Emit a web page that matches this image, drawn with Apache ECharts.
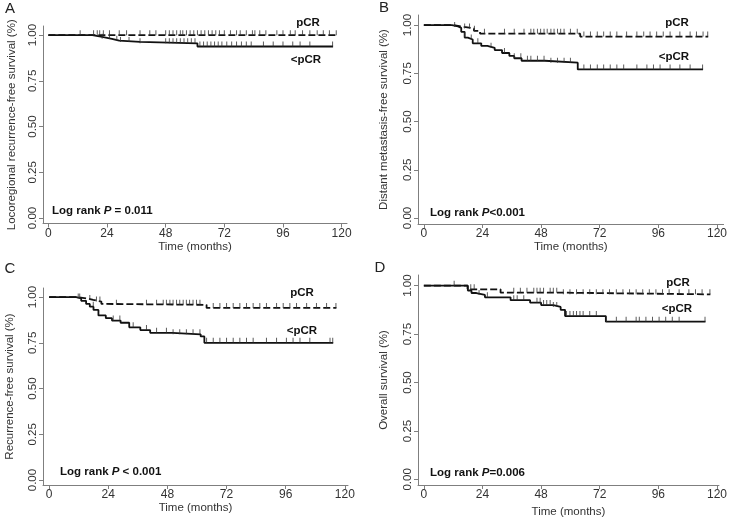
<!DOCTYPE html>
<html>
<head>
<meta charset="utf-8">
<script src="https://cdn.jsdelivr.net/npm/echarts@6/dist/echarts.min.js"></script>
<style>
html, body { margin: 0; padding: 0; background: #fff; }
#main { width: 730px; height: 523px; }
</style>
</head>
<body>
<div id="main"></div>
<script>
// axis ticks
const monthTicks = [0, 24, 48, 72, 96, 120]
const survTicks = [0, 0.25, 0.5, 0.75, 1]

// A: locoregional recurrence-free survival, [month, survival] steps (last point = end of follow-up)
const aPcr = [[0, 1], [118, 1]]
const aPcrCens = [13, 18.5, 20, 21, 22.5, 25, 29, 32, 37.5, 41.5, 44, 48, 49.5, 51, 52.5, 54, 55, 56.5, 58, 59.5, 61, 62.5, 64, 65.5, 67, 68.5, 70, 72, 74.5, 77, 78.5, 81, 83.5, 84.5, 86.5, 89, 93.5, 96, 99, 101, 104, 107, 110, 112.5, 115, 117.8]
const aLow = [[0, 1], [18, 0.99], [22, 0.98], [26, 0.97], [29, 0.963], [37.5, 0.955], [61, 0.938], [116.5, 0.938]]
const aLowCens = [22, 25, 28, 29.5, 33, 37.5, 48, 49.5, 51, 52.5, 54, 55.5, 57, 58.5, 60, 62, 63.5, 65, 66.5, 68, 69.5, 71, 73, 75, 77, 79, 81, 83, 88, 92, 96, 100, 103, 107, 116.3]

// B: distant metastasis-free survival
const bPcr = [[0, 1], [12, 0.99], [16.5, 0.982], [20.5, 0.97], [23, 0.955], [64, 0.94], [116.4, 0.94]]
const bPcrCens = [12.6, 16.7, 18.7, 20.7, 24.8, 33, 37, 41, 43.8, 45, 46.5, 47.8, 49.2, 50.5, 52, 53.3, 54.7, 56, 57.4, 60, 62.8, 65.5, 68.2, 71, 73.6, 76.3, 79, 83, 87.2, 90, 92.6, 95.3, 98, 100.8, 104.8, 109, 111.6, 114.3, 116.2]
const bLow = [[0, 1], [11.5, 0.993], [14, 0.985], [15.3, 0.965], [16.7, 0.935], [18, 0.925], [20, 0.905], [23.5, 0.892], [26, 0.882], [29, 0.87], [32, 0.855], [35, 0.84], [37, 0.828], [40, 0.815], [49.5, 0.805], [63, 0.77], [114.3, 0.77]]
const bLowCens = [16.7, 19.4, 22.1, 27.5, 33, 37, 39.7, 42.4, 43.8, 46.5, 49.2, 52, 54.7, 57.4, 60, 65.5, 68.2, 71, 73.6, 76.3, 79, 81.8, 87.2, 91.3, 94, 96.7, 100.8, 104.8, 109, 114.1]

// C: recurrence-free survival
const cPcr = [[0, 1], [11.8, 0.993], [15.2, 0.985], [17.9, 0.976], [21.2, 0.963], [23.3, 0.958], [63.9, 0.941], [116.6, 0.941]]
const cPcrCens = [11.8, 16.5, 19.2, 20.6, 27.3, 39.5, 43.6, 46.3, 47.6, 49, 50.3, 51.7, 53, 54.4, 55.7, 57, 58.4, 59.8, 61.2, 66.6, 69.3, 72, 74.7, 77.4, 80.1, 82.8, 85.5, 88.2, 92.3, 95, 97.7, 100.4, 104.5, 108.5, 112.6, 116.4]
const cLow = [[0, 1], [11, 0.993], [13, 0.98], [15, 0.963], [16.5, 0.948], [18, 0.93], [20, 0.9], [23, 0.885], [25.5, 0.872], [29, 0.86], [32.5, 0.835], [37, 0.82], [41, 0.805], [50, 0.797], [61.5, 0.785], [63, 0.75], [115.3, 0.75]]
const cLowCens = [12.4, 17.9, 26, 28.7, 34.1, 39.5, 43.6, 47.6, 50.3, 53, 55.7, 58.4, 61.2, 63.9, 66.6, 69.3, 72, 74.7, 77.4, 80.1, 82.8, 88.2, 92.3, 96.3, 99, 101.8, 105.8, 114, 115.1]

// D: overall survival
const dPcr = [[0, 1], [17.9, 0.981], [31.4, 0.964], [55.8, 0.955], [117.3, 0.955]]
const dPcrCens = [12.4, 19.2, 20.6, 36.8, 39.5, 42.2, 45, 46.3, 47.6, 49, 51.7, 53, 54.4, 57.1, 59.8, 62.5, 65.2, 67.9, 70.6, 73.3, 76, 78.8, 81.5, 84.2, 86.9, 89.6, 92.3, 95, 97.7, 100.4, 104.5, 108.5, 111.2, 113.9, 117.1]
const dLow = [[0, 1], [18, 0.975], [19.5, 0.962], [21.5, 0.952], [25, 0.94], [35.5, 0.925], [43.5, 0.912], [48, 0.9], [53, 0.89], [56, 0.875], [57.8, 0.843], [74.5, 0.814], [115.3, 0.814]]
const dLowCens = [22.6, 26, 36.8, 38.2, 40.9, 46.3, 47.6, 49, 50.3, 51.7, 53, 54.4, 58.4, 59.8, 61.2, 62.5, 63.9, 65.2, 67.9, 70.6, 74.7, 78.8, 82.8, 86.9, 88.2, 90.9, 93.6, 96.3, 99, 101.7, 104.5, 115.1]

const panelText = [
    { letter: 'A', yName: 'Locoregional recurrence-free survival (%)', p: ' = 0.011' },
    { letter: 'B', yName: 'Distant metastasis-free survival (%)', p: '<0.001' },
    { letter: 'C', yName: 'Recurrence-free survival (%)', p: ' < 0.001' },
    { letter: 'D', yName: 'Overall survival (%)', p: '=0.006' }
]

const FONT = '"Liberation Sans", Arial, sans-serif'

// survival value at time t (for placing censor ticks on the curve)
function survAt (steps, t) {
    let s = steps[0][1]
    for (const [time, val] of steps) {
        if (time <= t) s = val
    }
    return s
}

const panels = [
    { grid: { left: 43, top: 26, width: 304, height: 197.5 }, x: [-2.2, 122.2], y: [-0.03, 1.05], xGap: 17, yGap: 25,
      pcr: aPcr, pcrC: aPcrCens, low: aLow, lowC: aLowCens },
    { grid: { left: 418, top: 15, width: 307, height: 209 }, x: [-2.4, 122.7], y: [-0.031, 1.052], xGap: 13, yGap: 28,
      pcr: bPcr, pcrC: bPcrCens, low: bLow, lowC: bLowCens },
    { grid: { left: 43, top: 288, width: 305, height: 197 }, x: [-2.5, 121.3], y: [-0.027, 1.05], xGap: 17, yGap: 27,
      pcr: cPcr, pcrC: cPcrCens, low: cLow, lowC: cLowCens },
    { grid: { left: 418, top: 275, width: 304, height: 210 }, x: [-2.4, 120.8], y: [-0.029, 1.055], xGap: 21, yGap: 28,
      pcr: dPcr, pcrC: dPcrCens, low: dLow, lowC: dLowCens }
]

const axisColor = '#7f7f7f'
const labelColor = '#333'

const grids = []
const xAxes = []
const yAxes = []
const series = []

panels.forEach((p, i) => {
    grids.push(p.grid)
    xAxes.push({
        type: 'value',
        gridIndex: i,
        min: p.x[0],
        max: p.x[1],
        name: 'Time (months)',
        nameLocation: 'middle',
        nameGap: p.xGap,
        nameTextStyle: { fontFamily: FONT, fontSize: 11.5, color: labelColor, verticalAlign: 'top' },
        axisLine: { onZero: false, lineStyle: { color: axisColor, width: 1 } },
        axisTick: { length: 4, customValues: monthTicks, lineStyle: { color: axisColor } },
        axisLabel: { customValues: monthTicks, margin: 4, fontFamily: FONT, fontSize: 12, color: labelColor },
        splitLine: { show: false }
    })
    yAxes.push({
        type: 'value',
        gridIndex: i,
        min: p.y[0],
        max: p.y[1],
        name: panelText[i].yName,
        nameLocation: 'middle',
        nameGap: p.yGap,
        nameRotate: 90,
        nameTextStyle: { fontFamily: FONT, fontSize: 11.5, color: labelColor },
        axisLine: { show: true, onZero: false, lineStyle: { color: axisColor, width: 1 } },
        axisTick: { show: true, length: 4, customValues: survTicks, lineStyle: { color: axisColor } },
        axisLabel: {
            customValues: survTicks, rotate: 90, margin: 4,
            fontFamily: FONT, fontSize: 11.5, color: labelColor,
            formatter: v => v.toFixed(2)
        },
        splitLine: { show: false }
    })
    series.push({
        type: 'line', step: 'end', xAxisIndex: i, yAxisIndex: i,
        data: p.pcr, symbol: 'none', z: 3,
        lineStyle: { color: '#111', width: 1.8, type: [7, 3] }
    })
    series.push({
        type: 'line', step: 'end', xAxisIndex: i, yAxisIndex: i,
        data: p.low, symbol: 'none', z: 3,
        lineStyle: { color: '#111', width: 1.8 }
    })
    series.push({
        type: 'scatter', xAxisIndex: i, yAxisIndex: i,
        data: p.pcrC.map(t => [t, survAt(p.pcr, t)]),
        symbol: 'rect', symbolSize: [1, 5], symbolOffset: [0, -2.5], z: 4,
        itemStyle: { color: '#333' }
    })
    series.push({
        type: 'scatter', xAxisIndex: i, yAxisIndex: i,
        data: p.lowC.map(t => [t, survAt(p.low, t)]),
        symbol: 'rect', symbolSize: [1, 5], symbolOffset: [0, -2.5], z: 4,
        itemStyle: { color: '#333' }
    })
})

// panel letters, curve labels and log-rank text
const letterPos = [[10, 9], [384, 8], [10, 269], [380, 268]]
const pcrPos = [[308, 23], [677, 23], [302, 293], [678, 283]]
const lowPos = [[306, 60], [674, 57], [302, 331], [677, 309]]
const logPos = [[52, 211], [430, 213], [60, 472], [430, 473]]

const graphic = []
panelText.forEach((t, i) => {
    graphic.push({
        type: 'text', x: letterPos[i][0], y: letterPos[i][1],
        style: { text: t.letter, font: '15px ' + FONT, fill: '#222', align: 'center', verticalAlign: 'middle' }
    })
    graphic.push({
        type: 'text', x: pcrPos[i][0], y: pcrPos[i][1],
        style: { text: 'pCR', font: 'bold 11.5px ' + FONT, fill: '#111', align: 'center', verticalAlign: 'middle' }
    })
    graphic.push({
        type: 'text', x: lowPos[i][0], y: lowPos[i][1],
        style: { text: '<pCR', font: 'bold 11.5px ' + FONT, fill: '#111', align: 'center', verticalAlign: 'middle' }
    })
    graphic.push({
        type: 'text', x: logPos[i][0], y: logPos[i][1],
        style: {
            text: '{b|Log rank }{i|P}{b|' + t.p + '}',
            verticalAlign: 'middle',
            rich: {
                b: { font: 'bold 11.5px ' + FONT, fill: '#111' },
                i: { font: 'italic bold 11.5px ' + FONT, fill: '#111' }
            }
        }
    })
})

const myChart = echarts.init(document.getElementById('main'))
myChart.setOption({
    animation: false,
    backgroundColor: '#fff',
    grid: grids,
    xAxis: xAxes,
    yAxis: yAxes,
    series,
    graphic
})
</script>
</body>
</html>
